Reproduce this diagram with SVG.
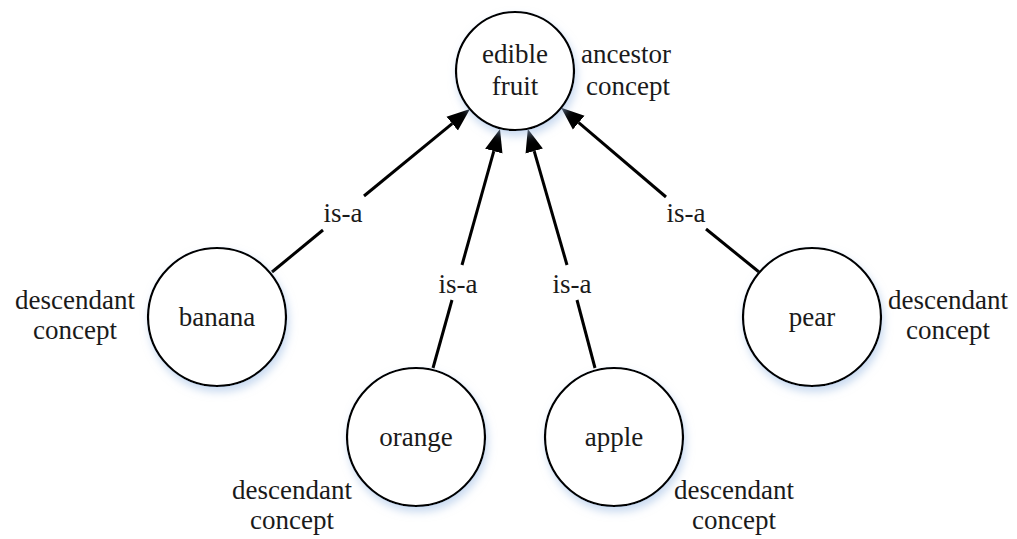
<svg xmlns="http://www.w3.org/2000/svg" width="1017" height="539" viewBox="0 0 1017 539">
  <style>
    text { font-family: "Liberation Serif", "Times New Roman", serif; font-size: 27px; fill: #1a1a1a; text-anchor: middle; }
    .node circle { fill: #ffffff; stroke: #000000; stroke-width: 2.2; filter: url(#soft); }
    .edge { stroke: #000000; stroke-width: 3; fill: none; }
    .arrow { stroke: #000000; stroke-width: 3; fill: none; marker-end: url(#head); }
  </style>
  <defs>
    <filter id="soft" x="-30%" y="-30%" width="160%" height="170%">
      <feDropShadow dx="2" dy="5" stdDeviation="4" flood-color="#9dbbe3" flood-opacity="0.55"/>
    </filter>
    <marker id="head" markerUnits="userSpaceOnUse" markerWidth="26" markerHeight="20" viewBox="0 -10 26 20" refX="0" refY="0" orient="auto">
      <path d="M0,-9 L23,0 L0,9 z" fill="#000000"/>
    </marker>
  </defs>
  <rect width="1017" height="539" fill="#ffffff"/>

  <!-- is-a connectors, each split around its label -->
  <g id="connectors">
    <line class="edge" x1="272" y1="272" x2="323" y2="230"/>
    <line class="arrow" x1="364" y1="196" x2="452.2" y2="123.6"/>
    <text x="343" y="222">is-a</text>

    <line class="edge" x1="433" y1="368" x2="452" y2="300"/>
    <line class="arrow" x1="462" y1="265" x2="493.8" y2="151.1"/>
    <text x="458" y="293">is-a</text>

    <line class="edge" x1="595" y1="368" x2="577" y2="300"/>
    <line class="arrow" x1="567" y1="265" x2="534.2" y2="151.1"/>
    <text x="572" y="293">is-a</text>

    <line class="edge" x1="759" y1="272" x2="706" y2="229"/>
    <line class="arrow" x1="666" y1="197" x2="578.7" y2="122.7"/>
    <text x="686" y="222">is-a</text>
  </g>

  <g id="edible-fruit" class="node">
    <circle cx="515" cy="71" r="59"/>
    <text x="515" y="63">edible</text>
    <text x="515" y="95">fruit</text>
    <text x="626" y="63">ancestor</text>
    <text x="628" y="95">concept</text>
  </g>

  <g id="banana" class="node">
    <circle cx="217" cy="317" r="69"/>
    <text x="217" y="326">banana</text>
    <text x="75" y="309">descendant</text>
    <text x="75" y="339">concept</text>
  </g>

  <g id="orange" class="node">
    <circle cx="416" cy="437" r="69"/>
    <text x="416" y="446">orange</text>
    <text x="292" y="499">descendant</text>
    <text x="292" y="529">concept</text>
  </g>

  <g id="apple" class="node">
    <circle cx="614" cy="437" r="69"/>
    <text x="614" y="446">apple</text>
    <text x="734" y="499">descendant</text>
    <text x="734" y="529">concept</text>
  </g>

  <g id="pear" class="node">
    <circle cx="812" cy="317" r="69"/>
    <text x="812" y="326">pear</text>
    <text x="948" y="309">descendant</text>
    <text x="948" y="339">concept</text>
  </g>
</svg>
